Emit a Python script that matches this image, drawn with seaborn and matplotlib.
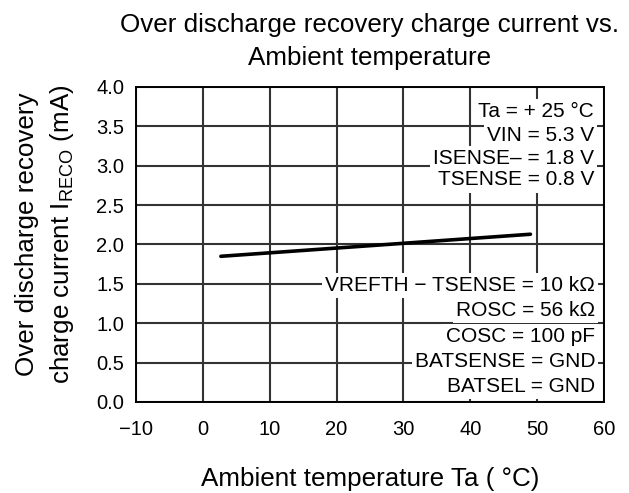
import matplotlib
matplotlib.use("Agg")
import matplotlib.pyplot as plt
import seaborn as sns
import pandas as pd

# ---- data ----
temperature = [2.7, 30.0, 49.0]
current = [1.85, 2.015, 2.13]
x_ticks = [-10, 0, 10, 20, 30, 40, 50, 60]
y_ticks = [0.0, 0.5, 1.0, 1.5, 2.0, 2.5, 3.0, 3.5, 4.0]
cond_upper = ["Ta = + 25 °C", "VIN = 5.3 V", "ISENSE– = 1.8 V", "TSENSE = 0.8 V"]
cond_lower = ["VREFTH − TSENSE = 10 kΩ", "ROSC = 56 kΩ", "COSC = 100 pF",
              "BATSENSE = GND", "BATSEL = GND"]
title = "Over discharge recovery charge current vs.\nAmbient temperature"
xlabel = "Ambient temperature Ta ( °C)"
ylabel = "Over discharge recovery\ncharge current I$_{\\mathregular{RECO}}$ (mA)"

sns.set_style("white")
plt.rcParams['font.family'] = ['Liberation Sans', 'DejaVu Sans']
plt.rcParams['mathtext.fontset'] = 'custom'
plt.rcParams['mathtext.rm'] = 'Liberation Sans'
plt.rcParams['text.color'] = 'black'
plt.rcParams['axes.labelcolor'] = 'black'
plt.rcParams['xtick.color'] = 'black'
plt.rcParams['ytick.color'] = 'black'

df = pd.DataFrame({"t": temperature, "i": current})

fig = plt.figure(figsize=(6.29, 4.93), dpi=100)
ax = fig.add_axes([0.2162, 0.1846, 0.744, 0.639])

sns.lineplot(data=df, x="t", y="i", ax=ax, color="black", lw=2.6, zorder=3)

ax.set_xlim(-10, 60)
ax.set_ylim(0, 4)
ax.set_xticks(x_ticks)
ax.set_yticks(y_ticks)
ax.set_yticklabels([f"{v:.1f}" for v in y_ticks])
ax.grid(True, color="#333333", lw=1.5, zorder=1)
ax.set_axisbelow(True)
for s in ax.spines.values():
    s.set_visible(True)
    s.set_color("black")
    s.set_linewidth(1.4)
    s.set_zorder(5)

ax.tick_params(axis="x", length=0, pad=13, labelsize=14.5, labelcolor="black")
ax.tick_params(axis="y", length=0, pad=8.5, labelsize=14.5, labelcolor="black")

ax.set_title(title, fontsize=18.7, pad=16, linespacing=1.45, color="black")
ax.set_xlabel(xlabel, fontsize=18.7, labelpad=20, color="black")
ax.set_ylabel(ylabel, fontsize=18.7, linespacing=1.45, color="black")
ax.yaxis.set_label_coords(-0.128, 0.533)

box = dict(facecolor="white", edgecolor="none", boxstyle="square,pad=0.15")
upper_y = [3.615, 3.32, 3.02, 2.75]
lower_y = [1.41, 1.09, 0.76, 0.45, 0.13]
for txt, yy in zip(cond_upper, upper_y):
    ax.text(58.5, yy, txt, ha="right", va="baseline", fontsize=15, bbox=box, zorder=4)
for txt, yy in zip(cond_lower, lower_y):
    ax.text(58.7, yy, txt, ha="right", va="baseline", fontsize=15, bbox=box, zorder=4)

fig.savefig("out.png", dpi=100)
